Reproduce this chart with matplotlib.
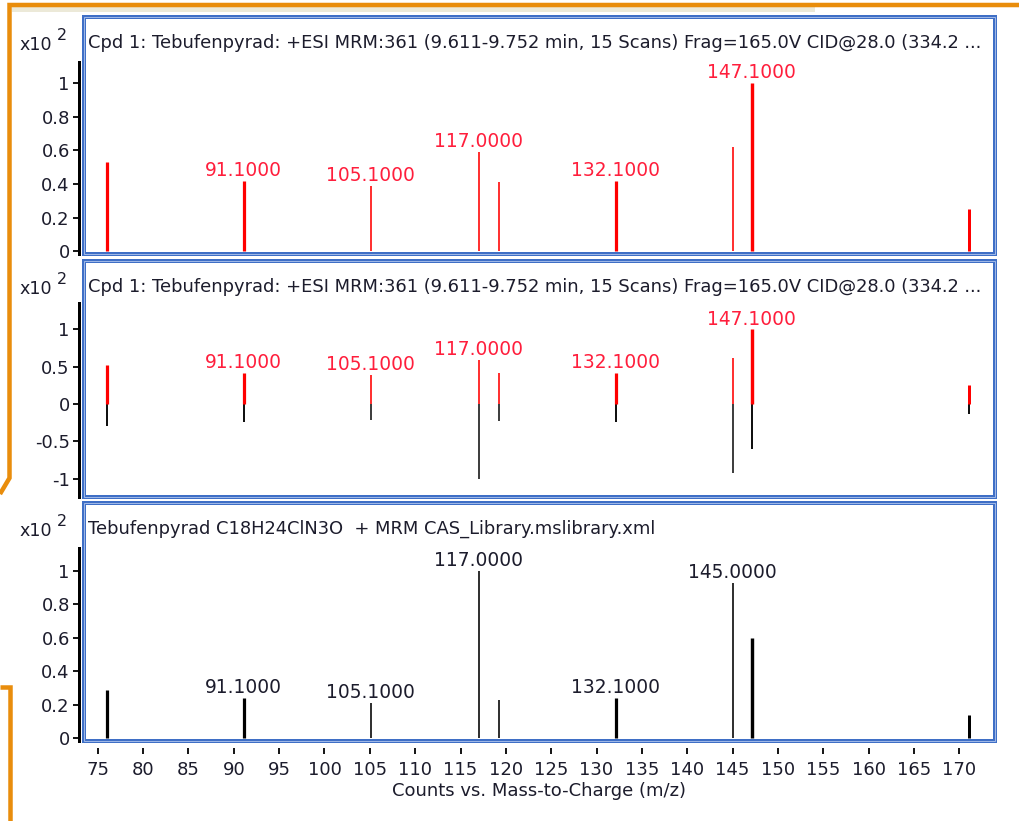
import matplotlib
matplotlib.use("Agg")
import matplotlib.pyplot as plt
from matplotlib.lines import Line2D
from matplotlib.patches import Rectangle

# ---- data -------------------------------------------------------------
mz = [76.0, 91.1, 105.1, 117.0, 119.2, 132.1, 145.0, 147.1, 171.1]
sample_abund = [0.53, 0.42, 0.39, 0.59, 0.41, 0.42, 0.62, 1.00, 0.25]   # x10^2 counts
library_abund = [0.29, 0.24, 0.21, 1.00, 0.23, 0.24, 0.93, 0.60, 0.14]  # x10^2 counts
sample_labels = [91.1, 105.1, 117.0, 132.1, 147.1]
library_labels = [91.1, 105.1, 117.0, 132.1, 145.0]
x_ticks = list(range(75, 171, 5))
ticks_top = [0, 0.2, 0.4, 0.6, 0.8, 1]
ticks_mirror = [-1, -0.5, 0, 0.5, 1]

title_sample = ("Cpd 1: Tebufenpyrad: +ESI MRM:361 (9.611-9.752 min, 15 Scans) "
                "Frag=165.0V CID@28.0 (334.2 ...")
title_library = "Tebufenpyrad C18H24ClN3O  + MRM CAS_Library.mslibrary.xml"
x_title = "Counts vs. Mass-to-Charge (m/z)"

# ---- styling ----------------------------------------------------------
W, H, DPI = 1019, 821, 100
RED = "#ff0000"
RED_TXT = "#ff1e3c"
INK = "#1c1c2c"
FRAME = "#3f6fc6"
ORANGE = "#e98d0c"
stick_px = [3.2, 3.2, 1.6, 1.6, 1.6, 3.2, 1.6, 3.4, 3.0]
PT = 72.0 / DPI  # points per pixel

plt.rcParams["font.family"] = ["DejaVu Sans"]
fig = plt.figure(figsize=(W / DPI, H / DPI), dpi=DPI, facecolor="white")


def px_axes(left, top, right, bottom):
    return fig.add_axes([left / W, 1 - bottom / H, (right - left) / W, (bottom - top) / H])


FR_L, FR_R = 83.5, 994.5
XLIM = (73.43, 173.88)

panels = [
    # top, bottom, ylim, axis-line top, ticks
    dict(top=17, bot=254, ylim=(-0.015, 1.39), ytop=1.125, ticks=ticks_top),
    dict(top=261, bot=497, ylim=(-1.248, 1.919), ytop=1.36, ticks=ticks_mirror),
    dict(top=503, bot=741, ylim=(-0.018, 1.407), ytop=1.14, ticks=ticks_top),
]

axes = []
for i, p in enumerate(panels):
    ax = px_axes(FR_L, p["top"], FR_R, p["bot"])
    ax.set_xlim(*XLIM)
    ax.set_ylim(*p["ylim"])
    ax.set_facecolor("white")
    for side in ("top", "right"):
        ax.spines[side].set_visible(False)
    ax.spines["left"].set_position(("outward", 3.5))
    ax.spines["left"].set_color("black")
    ax.spines["left"].set_linewidth(3.0 * PT)
    ax.spines["left"].set_bounds(p["ylim"][0], p["ytop"])
    ax.spines["bottom"].set_visible(False)
    ax.set_yticks(p["ticks"])
    ax.set_yticklabels([f"{t:g}" for t in p["ticks"]])
    ax.tick_params(axis="y", direction="out", length=6 * PT, width=1.8 * PT,
                   color="black", labelsize=13, labelcolor=INK, pad=2)
    # blue panel frame (double line)
    ax.add_patch(Rectangle((0, 0), 1, 1, transform=ax.transAxes, fill=False,
                           edgecolor=FRAME, linewidth=4.0 * PT, zorder=10,
                           clip_on=False))
    ax.add_patch(Rectangle((0, 0), 1, 1, transform=ax.transAxes, fill=False,
                           edgecolor="#a9c0ea", linewidth=0.9 * PT, zorder=11,
                           clip_on=False))
    axes.append(ax)

ax1, ax2, ax3 = axes

# sample spectrum
for x, y, w in zip(mz, sample_abund, stick_px):
    ax1.vlines(x, 0, y, color=RED, linewidth=w * PT, zorder=3)
# mirror: sample up, library down
for x, y, yl, w in zip(mz, sample_abund, library_abund, stick_px):
    ax2.vlines(x, 0, y, color=RED, linewidth=w * PT, zorder=3)
    ax2.vlines(x, -yl, 0, color="#111111", linewidth=min(w, 2.0) * PT, zorder=2)
# library spectrum
for x, y, w in zip(mz, library_abund, stick_px):
    ax3.vlines(x, 0, y, color="black", linewidth=w * PT, zorder=3)

# peak annotations
for ax in (ax1, ax2):
    for lab in sample_labels:
        y = sample_abund[mz.index(lab)]
        ax.annotate(f"{lab:.4f}", (lab, y), xytext=(0, 0.5), textcoords="offset points",
                    ha="center", va="bottom", fontsize=13.4, color=RED_TXT, zorder=5)
for lab in library_labels:
    y = library_abund[mz.index(lab)]
    ax3.annotate(f"{lab:.4f}", (lab, y), xytext=(0, 0.5), textcoords="offset points",
                 ha="center", va="bottom", fontsize=13.4, color=INK, zorder=5)

# x axis only on the bottom panel
for ax in (ax1, ax2):
    ax.set_xticks([])
ax3.spines["bottom"].set_position(("outward", 5))
ax3.set_xticks(x_ticks)
ax3.tick_params(axis="x", direction="out", length=6 * PT, width=1.8 * PT,
                color="black", labelsize=13, labelcolor=INK, pad=5)
ax3.set_xlabel(x_title, fontsize=13, color=INK, labelpad=2)

# panel titles and scale factors
for p, title in zip(panels, [title_sample, title_sample, title_library]):
    yc = 1 - (p["top"] + 26) / H
    fig.text(88 / W, yc, title, fontsize=12.85, color=INK, ha="left", va="center")
    fig.text(20 / W, 1 - (p["top"] + 28) / H, "x10", fontsize=12.6, color=INK,
             ha="left", va="center")
    fig.text(57 / W, 1 - (p["top"] + 18) / H, "2", fontsize=11.5, color=INK,
             ha="left", va="center")

# surrounding window trim
def trim(xs, ys, lw):
    fig.add_artist(Line2D([x / W for x in xs], [1 - y / H for y in ys],
                          color=ORANGE, linewidth=lw * PT, solid_capstyle="butt",
                          solid_joinstyle="miter"))

fig.add_artist(Rectangle((12 / W, 1 - 12 / H), (815 - 12) / W, 5 / H,
                         facecolor="#ece9d8", edgecolor="none"))
trim([1019, 9.5, 9.5, 0], [5, 5, 478, 494], 4.5)
trim([0, 10, 10], [687, 687, 821], 4.5)

fig.savefig("out.png", dpi=DPI, facecolor="white")
